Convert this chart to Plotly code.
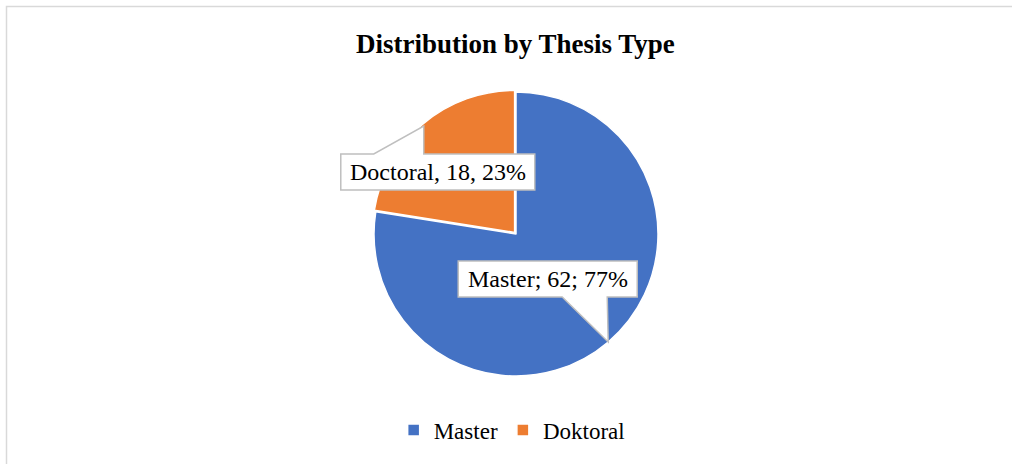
import math
import plotly.graph_objects as go

# ---- data ----
legend_labels = ["Master", "Doktoral"]
callout_names = ["Master", "Doctoral"]
values = [62, 18]
percents = [77, 23]
separators = ["; ", ", "]
colors = ["#4472C4", "#ED7D31"]
title_text = "Distribution by Thesis Type"

W, H = 1012, 464
SERIF = "Liberation Serif, Times New Roman, serif"

# pie geometry (pixels)
cx, cy, R = 516, 234, 142
pulls = [0, 0.015]
maxpull = max(pulls)
half_h = R * (1 + maxpull)
dom_y = [1 - (cy + half_h) / H, 1 - (cy - half_h) / H]
dom_x = [(cx - 260) / W, (cx + 260) / W]

fig = go.Figure(go.Pie(
    labels=legend_labels, values=values, sort=False, direction="clockwise",
    rotation=0, pull=pulls, textinfo="none", hoverinfo="label+value+percent",
    marker=dict(colors=colors, line=dict(color="white", width=1.5)),
    domain=dict(x=dom_x, y=dom_y),
))

def px(x):
    return x / W

def py(y):
    return 1 - y / H

# callout boxes (offsets relative to the tip on slice bisector at the rim)
box_specs = [
    dict(l=-150, r=29, t=-81, b=-45, bl=-46, br=-1, base="bottom"),
    dict(l=-83, r=111, t=28, b=64, bl=-50, br=0, base="top"),
]
total = sum(values)
cum = 0
shapes = []
annotations = []
for i, v in enumerate(values):
    mid = (cum + v / 2) / total * 2 * math.pi
    cum += v
    tx = cx + R * math.sin(mid)
    ty = cy - R * math.cos(mid)
    s = box_specs[i]
    L, Rr, T, B = tx + s["l"], tx + s["r"], ty + s["t"], ty + s["b"]
    bl, br = tx + s["bl"], tx + s["br"]
    if s["base"] == "top":
        pts = [(L, T), (bl, T), (tx, ty), (br, T), (Rr, T), (Rr, B), (L, B)]
    else:
        pts = [(L, T), (Rr, T), (Rr, B), (br, B), (tx, ty), (bl, B), (L, B)]
    path = "M" + " L".join(f"{px(x):.5f},{py(y):.5f}" for x, y in pts) + " Z"
    shapes.append(dict(type="path", path=path, xref="paper", yref="paper",
                       fillcolor="white", line=dict(color="#BFBFBF", width=1.5)))
    sep = separators[i]
    annotations.append(dict(
        text=f"{callout_names[i]}{sep}{values[i]}{sep}{percents[i]}%",
        x=px((L + Rr) / 2), y=py((T + B) / 2), xref="paper", yref="paper",
        xanchor="center", yanchor="middle", showarrow=False,
        font=dict(family=SERIF, size=24, color="black"),
    ))

# outer chart border
shapes.append(dict(type="rect", xref="paper", yref="paper",
                   x0=px(6.5), x1=1.05, y0=-0.05, y1=py(6.5),
                   line=dict(color="#D9D9D9", width=1.5), fillcolor="rgba(0,0,0,0)",
                   layer="below"))

annotations.append(dict(
    text=f"<b>{title_text}</b>", x=px(515), y=py(44), xref="paper", yref="paper",
    xanchor="center", yanchor="middle", showarrow=False,
    font=dict(family=SERIF, size=27, color="black"),
))

fig.update_layout(
    width=W, height=H,
    margin=dict(l=0, r=0, t=0, b=0),
    paper_bgcolor="white", plot_bgcolor="white",
    showlegend=True,
    legend=dict(orientation="h", x=0.5056, xanchor="center", y=py(430), yanchor="middle",
                font=dict(family=SERIF, size=23, color="black"),
                itemwidth=30, bgcolor="rgba(0,0,0,0)"),
    shapes=shapes, annotations=annotations,
)

fig.write_html("out.html", config={"displayModeBar": False},
               post_script="document.body.style.margin='0';document.body.style.overflow='hidden';")
